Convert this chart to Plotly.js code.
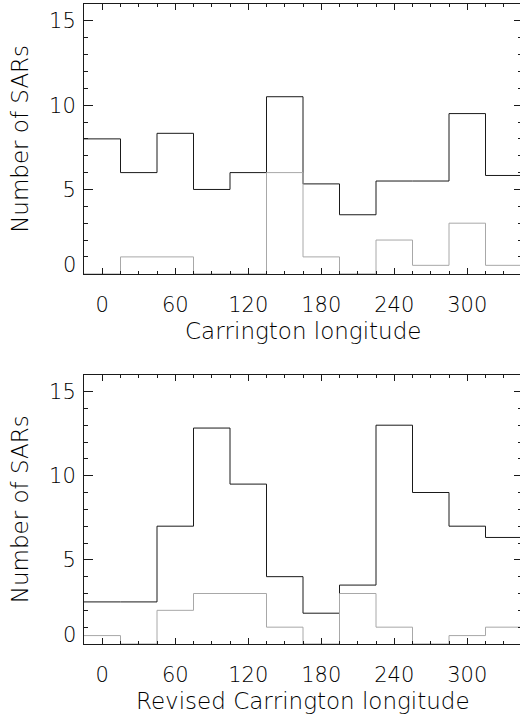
<!DOCTYPE html>
<html>
<head>
<meta charset="utf-8">
<script src="https://cdn.plot.ly/plotly-3.0.1.min.js"></script>
<style>
html, body { margin: 0; padding: 0; overflow: hidden; background: #fff; width: 520px; height: 718px; }
#chart { width: 522px; height: 718px; }
</style>
</head>
<body>
<div id="chart"></div>
<script>
// Bin centres (degrees), bin width 30
var binCenters = [0, 30, 60, 90, 120, 150, 180, 210, 240, 270, 300, 330];
var binWidth = 30;
// Top panel: Carrington longitude
var topAll  = [8, 6, 8.33, 5, 6, 10.5, 5.33, 3.5, 5.5, 5.5, 9.5, 5.83];
var topSub  = [0, 1, 1, 0, 0, 6, 1, 0, 2, 0.5, 3, 0.5];
// Bottom panel: Revised Carrington longitude
var botAll  = [2.5, 2.5, 7, 12.83, 9.5, 4, 1.83, 3.5, 13, 9, 7, 6.33];
var botSub  = [0.5, 0, 2, 3, 3, 1, 0, 3, 1, 0, 0.5, 1];
var xTickVals = [0, 60, 120, 180, 240, 300];
var yTickVals = [5, 10, 15];
var xTitles = ['Carrington longitude', 'Revised Carrington longitude'];
var yTitle = 'Number of SARs';

var FONT = 'DejaVu Sans';
var W = 200;
var TXT = '#000';

function steps(vals) {
  var xs = binCenters.map(function (c) { return c - binWidth / 2; });
  xs.push(binCenters[binCenters.length - 1] + binWidth / 2);
  var ys = vals.slice();
  ys.push(vals[vals.length - 1]);
  return { x: xs, y: ys };
}

function trace(vals, color, xa, ya) {
  var s = steps(vals);
  return {
    type: 'scatter', mode: 'lines', x: s.x, y: s.y, xaxis: xa, yaxis: ya,
    line: { shape: 'hv', color: color, width: 1 }, hoverinfo: 'skip', showlegend: false
  };
}

var data = [
  trace(topAll, '#1a1a1a', 'x', 'y'),
  trace(topSub, '#a8a8a8', 'x', 'y'),
  trace(botAll, '#1a1a1a', 'x2', 'y2'),
  trace(botSub, '#a8a8a8', 'x2', 'y2')
];

function xax(anchor) {
  return {
    anchor: anchor, range: [-15, 345], domain: [0, 1],
    tickmode: 'array', tickvals: xTickVals,
    ticks: 'inside', ticklen: 6, tickwidth: 1, tickcolor: '#1a1a1a',
    minor: { tickmode: 'linear', tick0: 0, dtick: 15, ticks: 'inside', ticklen: 3, tickwidth: 1, tickcolor: '#1a1a1a' },
    showline: true, linecolor: '#1a1a1a', linewidth: 1, mirror: 'ticks',
    showgrid: false, zeroline: false,
    tickfont: { family: FONT, size: 21, color: TXT, weight: W },
    ticklabelstandoff: 12
  };
}
function yax(domain, anchor) {
  return {
    anchor: anchor, range: [0, 16], domain: domain,
    tickmode: 'array', tickvals: yTickVals,
    ticks: 'inside', ticklen: 8.5, tickwidth: 1, tickcolor: '#1a1a1a',
    minor: { tickmode: 'linear', tick0: 0, dtick: 1, ticks: 'inside', ticklen: 4, tickwidth: 1, tickcolor: '#1a1a1a' },
    showline: true, linecolor: '#1a1a1a', linewidth: 1, mirror: 'ticks',
    showgrid: false, zeroline: false,
    tickfont: { family: FONT, size: 21, color: TXT, weight: W },
    ticklabelstandoff: 3,
    title: { text: yTitle, font: { family: FONT, size: 23, color: TXT, weight: W }, standoff: 14 }
  };
}

function zeroLabel(yref) {
  return { xref: 'paper', yref: yref, x: 0, y: 0, text: '0', showarrow: false, xanchor: 'right', yanchor: 'middle',
           xshift: -6, yshift: 9, font: { family: FONT, size: 21, color: TXT, weight: W } };
}
function xTitle(text, yref) {
  return { xref: 'paper', yref: yref, x: 0.5, y: 0, text: text, showarrow: false, xanchor: 'center', yanchor: 'middle',
           yshift: -57, font: { family: FONT, size: 23, color: TXT, weight: W } };
}

var layout = {
  width: 522, height: 718,
  margin: { l: 84, r: 0, t: 4, b: 74 },
  paper_bgcolor: '#fff', plot_bgcolor: '#fff',
  showlegend: false,
  xaxis: xax('y'),
  yaxis: yax([0.5785, 1], 'x'),
  xaxis2: xax('y2'),
  yaxis2: yax([0, 0.4208], 'x2'),
  annotations: [
    zeroLabel('y'), zeroLabel('y2'),
    xTitle(xTitles[0], 'y domain'), xTitle(xTitles[1], 'y2 domain')
  ]
};

Plotly.newPlot('chart', data, layout, { displayModeBar: false, staticPlot: true });
</script>
</body>
</html>
